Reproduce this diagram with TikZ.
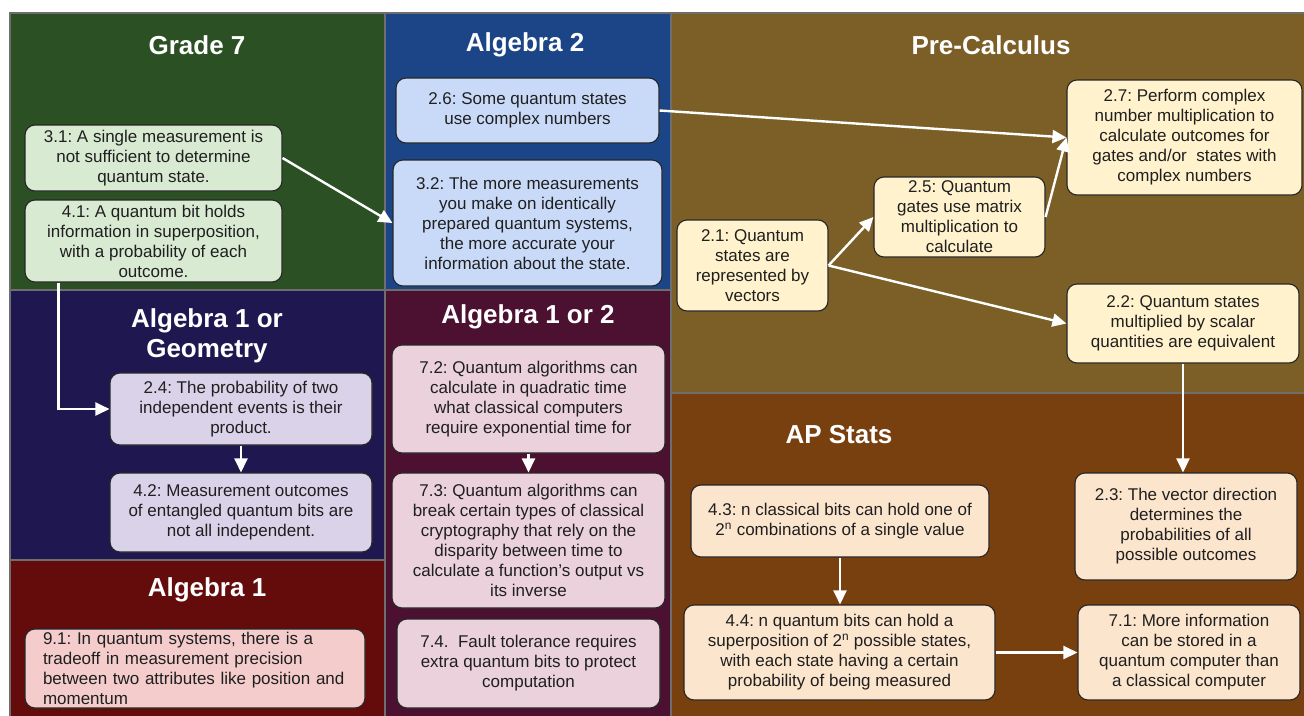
\documentclass[tikz,border=0pt]{standalone}
\usepackage{fontspec}
\setmainfont{Liberation Sans}
\usetikzlibrary{arrows.meta}
\frenchspacing
\definecolor{pgreen}{HTML}{2B5023}
\definecolor{pblue}{HTML}{1C4587}
\definecolor{pprecalc}{HTML}{7C5E27}
\definecolor{pnavy}{HTML}{1F1850}
\definecolor{pmagenta}{HTML}{4C1130}
\definecolor{pred}{HTML}{640C0C}
\definecolor{porange}{HTML}{783F0F}
\definecolor{fgreen}{HTML}{D9EAD3}
\definecolor{fblue}{HTML}{C9DAF8}
\definecolor{fyellow}{HTML}{FFF2CC}
\definecolor{flav}{HTML}{D9D2E9}
\definecolor{fpink}{HTML}{EAD1DC}
\definecolor{fred}{HTML}{F4CCCC}
\definecolor{forange}{HTML}{FCE5CD}
\definecolor{pborder}{HTML}{6E6E6E}
\tikzset{
  panel/.style={draw=pborder, line width=1.2pt},
  ptitle/.style={text=white, font=\bfseries\fontsize{26}{30}\selectfont, align=center, inner sep=0pt},
  kbox/.style={draw=black!85, line width=1.1pt, rounded corners=10pt, align=center,
    inner sep=2pt, text=black!88, font=\frenchspacing\fontsize{17}{20}\selectfont},
  wbox/.style 2 args={minimum width=#1pt, minimum height=#2pt},
  conn/.style={draw=white, line width=2.4pt, -{Triangle[length=14pt,width=13pt]}},
}
\begin{document}
\begin{tikzpicture}[x=1pt,y=-1pt]
\useasboundingbox (0,0) rectangle (1304,715);
\clip (0,0) rectangle (1304,715);
\fill[white] (0,0) rectangle (1304,715);
% panels
\filldraw[panel, fill=pgreen] (10,13) rectangle (385,290);
\filldraw[panel, fill=pblue] (385,13) rectangle (671,290);
\filldraw[panel, fill=pprecalc] (671,13) rectangle (1310,393);
\filldraw[panel, fill=pnavy] (10,290) rectangle (385,560);
\filldraw[panel, fill=pmagenta] (385,290) rectangle (671,720);
\filldraw[panel, fill=pred] (10,560) rectangle (385,720);
\filldraw[panel, fill=porange] (671,393) rectangle (1310,720);
% titles
\node[ptitle] (tg7) at (197,45) {Grade 7};
\node[ptitle] (ta2) at (525,45) {Algebra 2};
\node[ptitle] (tpc) at (991,45) {Pre-Calculus};
\node[ptitle, align=center] (tag) at (207,336) {Algebra 1 or\\[0pt]Geometry};
\node[ptitle] (ta12) at (528,317) {Algebra 1 or 2};
\node[ptitle] (ta1) at (207,590) {Algebra 1};
\node[ptitle] (tap) at (839,435) {AP Stats};
% boxes
\node[kbox, fill=fgreen, wbox={257}{66}] (b31) at (153.5,158) {3.1: A single measurement is\\not sufficient to determine\\quantum state.};
\node[kbox, fill=fgreen, wbox={257}{82}] (b41) at (153.5,241) {4.1: A quantum bit holds\\information in superposition,\\with a probability of each\\outcome.};
\node[kbox, fill=fblue, wbox={263}{65}] (b26) at (527.5,110.5) {2.6: Some quantum states\\use complex numbers};
\node[kbox, fill=fblue, wbox={269}{126}] (b32) at (527.5,223) {3.2: The more measurements\\you make on identically\\prepared quantum systems,\\the more accurate your\\information about the state.};
\node[kbox, fill=fyellow, wbox={151}{91}] (b21) at (752.5,265.5) {2.1: Quantum\\states are\\represented by\\vectors};
\node[kbox, fill=fyellow, wbox={171}{80}] (b25) at (959.5,217) {2.5: Quantum\\gates use matrix\\multiplication to\\calculate};
\node[kbox, fill=fyellow, wbox={235}{115}] (b27) at (1184.5,137.5) {2.7: Perform complex\\number multiplication to\\calculate outcomes for\\gates and/or\ \ states with\\complex numbers};
\node[kbox, fill=fyellow, wbox={232}{79}] (b22) at (1183,323.5) {2.2: Quantum states\\multiplied by scalar\\quantities are equivalent};
\node[kbox, fill=flav, wbox={262}{72}] (b24) at (241,409) {2.4: The probability of two\\independent events is their\\product.};
\node[kbox, fill=flav, wbox={262}{79}] (b42) at (241,512.5) {4.2: Measurement outcomes\\of entangled quantum bits are\\not all independent.};
\node[kbox, fill=fpink, wbox={273}{108}] (b72) at (528.5,399) {7.2: Quantum algorithms can\\calculate in quadratic time\\what classical computers\\require exponential time for};
\node[kbox, fill=fpink, wbox={273}{135}] (b73) at (528.5,540.5) {7.3: Quantum algorithms can\\break certain types of classical\\cryptography that rely on the\\disparity between time to\\calculate a function's output vs\\its inverse};
\node[kbox, fill=fpink, wbox={263}{89}] (b74) at (528.5,663.5) {7.4.\ \ Fault tolerance requires\\extra quantum bits to protect\\computation};
\node[kbox, fill=fred, wbox={340}{79}, align=left, inner xsep=18pt, text width=304pt] (b91) at (195,668.5) {9.1: In quantum systems, there is a\\tradeoff in measurement precision\\between two attributes like position and\\momentum};
\node[kbox, fill=forange, wbox={298}{72}] (b43) at (840,521) {4.3: n classical bits can hold one of\\2\textsuperscript{n} combinations of a single value};
\node[kbox, fill=forange, wbox={311}{95}] (b44) at (839.5,652.5) {4.4: n quantum bits can hold a\\superposition of 2\textsuperscript{n} possible states,\\with each state having a certain\\probability of being measured};
\node[kbox, fill=forange, wbox={222}{107}] (b23) at (1186,526.5) {2.3: The vector direction\\determines the\\probabilities of all\\possible outcomes};
\node[kbox, fill=forange, wbox={222}{95}] (b71) at (1189,652.5) {7.1: More information\\can be stored in a\\quantum computer than\\a classical computer};
% connectors
\draw[conn] (b31.east) -- (b32.west);
\draw[conn] ([xshift=34pt]b41.south west) |- (b24.west);
\draw[conn] (b24.south) -- (b42.north);
\draw[conn] (b72.south) -- (b73.north);
\draw[conn] (b26.east) -- (b27.west);
\draw[conn] (b21.east) -- (b25.west);
\draw[conn] (b25.east) -- (b27.west);
\draw[conn] (b21.east) -- (b22.west);
\draw[conn] (b22.south) -- (b22.south |- b23.north);
\draw[conn] (b43.south) -- (b43.south |- b44.north);
\draw[conn] (b44.east) -- (b71.west);
\end{tikzpicture}
\end{document}
